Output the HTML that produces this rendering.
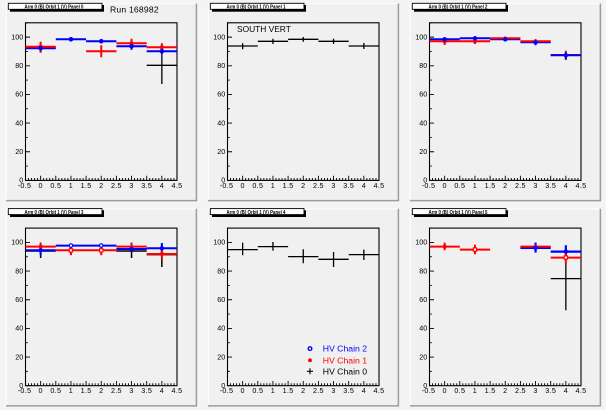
<!DOCTYPE html>
<html>
<head>
<meta charset="utf-8">
<style>
html,body{margin:0;padding:0;background:#f4f4f4;}
svg{display:block;}
text{font-family:"Liberation Sans",Arial,sans-serif;}
</style>
</head>
<body>
<svg width="606" height="410" viewBox="0 0 606 410" xmlns="http://www.w3.org/2000/svg">
<defs>
  <g id="padbg">
    <rect x="6" y="3.5" width="190.5" height="197" fill="#f0f0f0"/>
    <path d="M6 3.8H196M6.3 3.5V200.5" stroke="#ffffff" stroke-width="1" fill="none"/>
    <path d="M6 200.6H197M196.4 3.5V201.3" stroke="#9c9c9c" stroke-width="1.5" fill="none"/>
    <rect x="10" y="5" width="94" height="6.7" fill="#000"/>
    <rect x="8.3" y="3.3" width="93.7" height="6" fill="#ffffff" stroke="#000" stroke-width="0.9"/>
  </g>
  <g id="axes">
    <rect x="25.5" y="22.8" width="151.5" height="157.6" fill="none" stroke="#000" stroke-width="1.1"/>
    <path fill="none" stroke="#000" stroke-width="0.9" d="
M25.5 180.4h4.5M25.5 151.75h4.5M25.5 123.09h4.5M25.5 94.44h4.5M25.5 65.78h4.5M25.5 37.13h4.5
M25.5 166.07h2.3M25.5 137.42h2.3M25.5 108.76h2.3M25.5 80.11h2.3M25.5 51.45h2.3M25.5 22.8h2.3
M40.65 180.4v-4.7M55.8 180.4v-4.7M70.95 180.4v-4.7M86.1 180.4v-4.7M101.25 180.4v-4.7M116.4 180.4v-4.7M131.55 180.4v-4.7M146.7 180.4v-4.7M161.85 180.4v-4.7
M28.53 180.4v-2.4M31.56 180.4v-2.4M34.59 180.4v-2.4M37.62 180.4v-2.4
M43.68 180.4v-2.4M46.71 180.4v-2.4M49.74 180.4v-2.4M52.77 180.4v-2.4
M58.83 180.4v-2.4M61.86 180.4v-2.4M64.89 180.4v-2.4M67.92 180.4v-2.4
M73.98 180.4v-2.4M77.01 180.4v-2.4M80.04 180.4v-2.4M83.07 180.4v-2.4
M89.13 180.4v-2.4M92.16 180.4v-2.4M95.19 180.4v-2.4M98.22 180.4v-2.4
M104.28 180.4v-2.4M107.31 180.4v-2.4M110.34 180.4v-2.4M113.37 180.4v-2.4
M119.43 180.4v-2.4M122.46 180.4v-2.4M125.49 180.4v-2.4M128.52 180.4v-2.4
M134.58 180.4v-2.4M137.61 180.4v-2.4M140.64 180.4v-2.4M143.67 180.4v-2.4
M149.73 180.4v-2.4M152.76 180.4v-2.4M155.79 180.4v-2.4M158.82 180.4v-2.4
M164.88 180.4v-2.4M167.91 180.4v-2.4M170.94 180.4v-2.4M173.97 180.4v-2.4"/>
  </g>
</defs>

<!-- ===== PAD 1 ===== -->
<g transform="translate(0,0)">
  <use href="#padbg"/>
  <text transform="translate(54 8.6) scale(0.5)" font-size="10" font-weight="bold" text-anchor="middle" textLength="118" lengthAdjust="spacingAndGlyphs" fill="#000">Arm 0 (B) Orbit 1 (V) Panel 0</text>
  <text x="110" y="12.7" font-size="8.6" fill="#000" letter-spacing="0.2">Run 168982</text>
  <use href="#axes"/>
  <g font-size="7.2" fill="#000" text-anchor="end">
    <text x="23.3" y="182.7">0</text><text x="23.3" y="154">20</text><text x="23.3" y="125.4">40</text><text x="23.3" y="96.7">60</text><text x="23.3" y="68.1">80</text><text x="23.3" y="39.4">100</text>
  </g>
  <g font-size="7.2" fill="#000" text-anchor="middle" letter-spacing="0.3">
    <text x="24.5" y="187.8">-0.5</text><text x="40.65" y="187.8">0</text><text x="55.8" y="187.8">0.5</text><text x="70.95" y="187.8">1</text><text x="86.1" y="187.8">1.5</text><text x="101.25" y="187.8">2</text><text x="116.4" y="187.8">2.5</text><text x="131.55" y="187.8">3</text><text x="146.7" y="187.8">3.5</text><text x="161.85" y="187.8">4</text><text x="177" y="187.8">4.5</text>
  </g>
  <path fill="none" stroke="#000" stroke-width="1.3" d="M146.7 65.3H177M161.85 51.7V84"/>
  <path fill="none" stroke="#0000ff" stroke-width="2" d="M25.5 48.3H55.8M40.65 45.3V52.3M55.8 39.3H86.1M70.95 37.3V41.3M86.1 41.3H116.4M101.25 39.3V43.3M116.4 46.3H146.7M131.55 43.7V49.7M146.7 51.3H177M161.85 48.7V54"/>
  <path fill="none" stroke="#ff0000" stroke-width="2" d="M25.5 46.7H55.8M40.65 41.7V52.7M86.1 51.3H116.4M101.25 45.3V57.3M116.4 43.3H146.7M131.55 38.7V48M146.7 47.3H177M161.85 43.3V51.7"/>
  <g fill="#ff0000">
    <rect x="39" y="45" width="3.3" height="3.3"/><rect x="129.9" y="41.6" width="3.3" height="3.3"/><rect x="160.2" y="45.6" width="3.3" height="3.3"/>
  </g>
  <g fill="#0000ff">
    <circle cx="40.65" cy="48.3" r="2.3"/><circle cx="70.95" cy="39.3" r="2.3"/><circle cx="101.25" cy="41.3" r="2.3"/><circle cx="131.55" cy="46.3" r="2.3"/><circle cx="161.85" cy="51.3" r="2.3"/>
  </g>
</g>

<!-- ===== PAD 2 ===== -->
<g transform="translate(202,0)">
  <use href="#padbg"/>
  <text transform="translate(54 8.6) scale(0.5)" font-size="10" font-weight="bold" text-anchor="middle" textLength="118" lengthAdjust="spacingAndGlyphs" fill="#000">Arm 0 (B) Orbit 1 (V) Panel 1</text>
  <use href="#axes"/>
  <text x="35" y="32" font-size="8.4" fill="#000">SOUTH VERT</text>
  <g font-size="7.2" fill="#000" text-anchor="end">
    <text x="23.3" y="182.7">0</text><text x="23.3" y="154">20</text><text x="23.3" y="125.4">40</text><text x="23.3" y="96.7">60</text><text x="23.3" y="68.1">80</text><text x="23.3" y="39.4">100</text>
  </g>
  <g font-size="7.2" fill="#000" text-anchor="middle" letter-spacing="0.3">
    <text x="24.5" y="187.8">-0.5</text><text x="40.65" y="187.8">0</text><text x="55.8" y="187.8">0.5</text><text x="70.95" y="187.8">1</text><text x="86.1" y="187.8">1.5</text><text x="101.25" y="187.8">2</text><text x="116.4" y="187.8">2.5</text><text x="131.55" y="187.8">3</text><text x="146.7" y="187.8">3.5</text><text x="161.85" y="187.8">4</text><text x="177" y="187.8">4.5</text>
  </g>
  <path fill="none" stroke="#000" stroke-width="1.3" d="M25.5 46H55.8M40.65 43.3V49.3M55.8 41.3H86.1M70.95 38.7V44M86.1 39.3H116.4M101.25 37V41.7M116.4 41.3H146.7M131.55 38.7V44M146.7 46H177M161.85 43V49"/>
</g>

<!-- ===== PAD 3 ===== -->
<g transform="translate(404,0)">
  <use href="#padbg"/>
  <text transform="translate(54 8.6) scale(0.5)" font-size="10" font-weight="bold" text-anchor="middle" textLength="118" lengthAdjust="spacingAndGlyphs" fill="#000">Arm 0 (B) Orbit 1 (V) Panel 2</text>
  <use href="#axes"/>
  <g font-size="7.2" fill="#000" text-anchor="end">
    <text x="23.3" y="182.7">0</text><text x="23.3" y="154">20</text><text x="23.3" y="125.4">40</text><text x="23.3" y="96.7">60</text><text x="23.3" y="68.1">80</text><text x="23.3" y="39.4">100</text>
  </g>
  <g font-size="7.2" fill="#000" text-anchor="middle" letter-spacing="0.3">
    <text x="24.5" y="187.8">-0.5</text><text x="40.65" y="187.8">0</text><text x="55.8" y="187.8">0.5</text><text x="70.95" y="187.8">1</text><text x="86.1" y="187.8">1.5</text><text x="101.25" y="187.8">2</text><text x="116.4" y="187.8">2.5</text><text x="131.55" y="187.8">3</text><text x="146.7" y="187.8">3.5</text><text x="161.85" y="187.8">4</text><text x="177" y="187.8">4.5</text>
  </g>
  <path fill="none" stroke="#ff0000" stroke-width="2" d="M146.7 55H177M161.85 50.7V60"/>
  <path fill="none" stroke="#0000ff" stroke-width="2" d="M25.5 39.3H55.8M40.65 37.3V41.3M55.8 38.3H86.1M70.95 36.3V40.3M86.1 39.3H116.4M101.25 37.3V41.3M116.4 42.3H146.7M131.55 39.3V45.3M146.7 55.3H177M161.85 52.3V59.3"/>
  <path fill="none" stroke="#ff0000" stroke-width="2" d="M25.5 41.3H86.1M40.65 38.7V45M70.95 39V44M86.1 38.3H116.4M101.25 36.5V40.5M116.4 41.3H146.7M131.55 39V44"/>
  <g fill="#ff0000">
    <rect x="39" y="39.6" width="3.3" height="3.3"/><rect x="69.3" y="39.6" width="3.3" height="3.3"/>
  </g>
  <g fill="#0000ff">
    <circle cx="40.65" cy="39.3" r="2.2"/><circle cx="70.95" cy="38.3" r="2.2"/><circle cx="101.25" cy="39.3" r="2.2"/><circle cx="131.55" cy="42.3" r="2.2"/><circle cx="161.85" cy="55.3" r="2.2"/>
  </g>
</g>

<!-- ===== PAD 4 ===== -->
<g transform="translate(0,205.3)">
  <use href="#padbg"/>
  <text transform="translate(54 8.6) scale(0.5)" font-size="10" font-weight="bold" text-anchor="middle" textLength="118" lengthAdjust="spacingAndGlyphs" fill="#000">Arm 0 (B) Orbit 1 (V) Panel 3</text>
  <use href="#axes"/>
  <g font-size="7.2" fill="#000" text-anchor="end">
    <text x="23.3" y="182.7">0</text><text x="23.3" y="154">20</text><text x="23.3" y="125.4">40</text><text x="23.3" y="96.7">60</text><text x="23.3" y="68.1">80</text><text x="23.3" y="39.4">100</text>
  </g>
  <g font-size="7.2" fill="#000" text-anchor="middle" letter-spacing="0.3">
    <text x="24.5" y="187.8">-0.5</text><text x="40.65" y="187.8">0</text><text x="55.8" y="187.8">0.5</text><text x="70.95" y="187.8">1</text><text x="86.1" y="187.8">1.5</text><text x="101.25" y="187.8">2</text><text x="116.4" y="187.8">2.5</text><text x="131.55" y="187.8">3</text><text x="146.7" y="187.8">3.5</text><text x="161.85" y="187.8">4</text><text x="177" y="187.8">4.5</text>
  </g>
  <path fill="none" stroke="#000" stroke-width="1.5" d="M25.5 45.7H55.8M40.65 37.3V52.7M116.4 45.7H146.7M131.55 37.3V52.7M146.7 49.3H177M161.85 38.3V61.7"/>
  <path fill="none" stroke="#0000ff" stroke-width="2" d="M25.5 45H55.8M40.65 40.3V50M55.8 40.3H86.1M70.95 38.7V42M86.1 40.3H116.4M101.25 38.7V42M116.4 43.7H146.7M131.55 41.5V46M146.7 43H177M161.85 37.7V48.3"/>
  <path fill="none" stroke="#ff0000" stroke-width="2" d="M25.5 41.3H55.8M40.65 37.5V46M55.8 45H86.1M70.95 40V50M86.1 45H116.4M101.25 40V50M116.4 41.3H146.7M131.55 37.3V45M146.7 48.7H177M161.85 43.7V53.3"/>
  <g fill="#ff0000">
    <rect x="39" y="39.6" width="3.3" height="3.3"/><rect x="160.2" y="47" width="3.3" height="3.3"/>
  </g>
  <g fill="#f0f0f0" stroke="#ff0000" stroke-width="1.1">
    <rect x="69.3" y="43.4" width="3.3" height="3.3"/><rect x="99.6" y="43.4" width="3.3" height="3.3"/>
  </g>
  <g fill="#0000ff">
    <circle cx="40.65" cy="45" r="2.2"/><circle cx="131.55" cy="43.7" r="2.2"/><circle cx="161.85" cy="43" r="2.2"/>
  </g>
  <g fill="#f0f0f0" stroke="#0000ff" stroke-width="1.2">
    <circle cx="70.95" cy="40.3" r="1.8"/><circle cx="101.25" cy="40.3" r="1.8"/>
  </g>
</g>

<!-- ===== PAD 5 ===== -->
<g transform="translate(202,205.3)">
  <use href="#padbg"/>
  <text transform="translate(54 8.6) scale(0.5)" font-size="10" font-weight="bold" text-anchor="middle" textLength="118" lengthAdjust="spacingAndGlyphs" fill="#000">Arm 0 (B) Orbit 1 (V) Panel 4</text>
  <use href="#axes"/>
  <g font-size="7.2" fill="#000" text-anchor="end">
    <text x="23.3" y="182.7">0</text><text x="23.3" y="154">20</text><text x="23.3" y="125.4">40</text><text x="23.3" y="96.7">60</text><text x="23.3" y="68.1">80</text><text x="23.3" y="39.4">100</text>
  </g>
  <g font-size="7.2" fill="#000" text-anchor="middle" letter-spacing="0.3">
    <text x="24.5" y="187.8">-0.5</text><text x="40.65" y="187.8">0</text><text x="55.8" y="187.8">0.5</text><text x="70.95" y="187.8">1</text><text x="86.1" y="187.8">1.5</text><text x="101.25" y="187.8">2</text><text x="116.4" y="187.8">2.5</text><text x="131.55" y="187.8">3</text><text x="146.7" y="187.8">3.5</text><text x="161.85" y="187.8">4</text><text x="177" y="187.8">4.5</text>
  </g>
  <path fill="none" stroke="#000" stroke-width="1.3" d="M25.5 44.3H55.8M40.65 37.3V50M55.8 41.3H86.1M70.95 36.7V45.3M86.1 51.3H116.4M101.25 44V58M116.4 54H146.7M131.55 46.7V61.7M146.7 49.3H177M161.85 44.3V54.7"/>
  <!-- legend -->
  <circle cx="108" cy="143.3" r="1.8" fill="none" stroke="#0000ff" stroke-width="1.4"/>
  <path fill="none" stroke="#ff0000" stroke-width="1.2" d="M106 155H110M108 153V157M106.6 153.6L109.4 156.4M109.4 153.6L106.6 156.4"/>
  <path fill="none" stroke="#000" stroke-width="1.1" d="M105 166H111M108 163V169"/>
  <g font-size="8.7">
    <text x="120.7" y="146.4" fill="#0000ff">HV Chain 2</text>
    <text x="120.7" y="158.1" fill="#ff0000">HV Chain 1</text>
    <text x="120.7" y="169.2" fill="#000000">HV Chain 0</text>
  </g>
</g>

<!-- ===== PAD 6 ===== -->
<g transform="translate(404,205.3)">
  <use href="#padbg"/>
  <text transform="translate(54 8.6) scale(0.5)" font-size="10" font-weight="bold" text-anchor="middle" textLength="118" lengthAdjust="spacingAndGlyphs" fill="#000">Arm 0 (B) Orbit 1 (V) Panel 5</text>
  <use href="#axes"/>
  <g font-size="7.2" fill="#000" text-anchor="end">
    <text x="23.3" y="182.7">0</text><text x="23.3" y="154">20</text><text x="23.3" y="125.4">40</text><text x="23.3" y="96.7">60</text><text x="23.3" y="68.1">80</text><text x="23.3" y="39.4">100</text>
  </g>
  <g font-size="7.2" fill="#000" text-anchor="middle" letter-spacing="0.3">
    <text x="24.5" y="187.8">-0.5</text><text x="40.65" y="187.8">0</text><text x="55.8" y="187.8">0.5</text><text x="70.95" y="187.8">1</text><text x="86.1" y="187.8">1.5</text><text x="101.25" y="187.8">2</text><text x="116.4" y="187.8">2.5</text><text x="131.55" y="187.8">3</text><text x="146.7" y="187.8">3.5</text><text x="161.85" y="187.8">4</text><text x="177" y="187.8">4.5</text>
  </g>
  <path fill="none" stroke="#000" stroke-width="1.3" d="M146.7 73.3H177M161.85 50V105"/>
  <path fill="none" stroke="#0000ff" stroke-width="2.2" d="M116.4 42.6H146.7M131.55 37.3V47.3M146.7 46.3H177M161.85 40V53.3"/>
  <path fill="none" stroke="#ff0000" stroke-width="2" d="M25.5 41.3H55.8M40.65 37.3V45M55.8 44.3H86.1M70.95 39.3V49M116.4 41.3H146.7M131.55 39V44M146.7 52.3H177M161.85 46.7V59"/>
  <rect x="39" y="39.6" width="3.3" height="3.3" fill="#ff0000"/>
  <g fill="#f0f0f0" stroke="#ff0000" stroke-width="1.1">
    <rect x="69.3" y="42.6" width="3.3" height="3.3"/><rect x="160.2" y="50.6" width="3.3" height="3.3"/>
  </g>
  <g fill="#0000ff">
    <circle cx="131.55" cy="42.3" r="2.3"/><circle cx="161.85" cy="46.3" r="2.2"/>
  </g>
</g>
</svg>
</body>
</html>
